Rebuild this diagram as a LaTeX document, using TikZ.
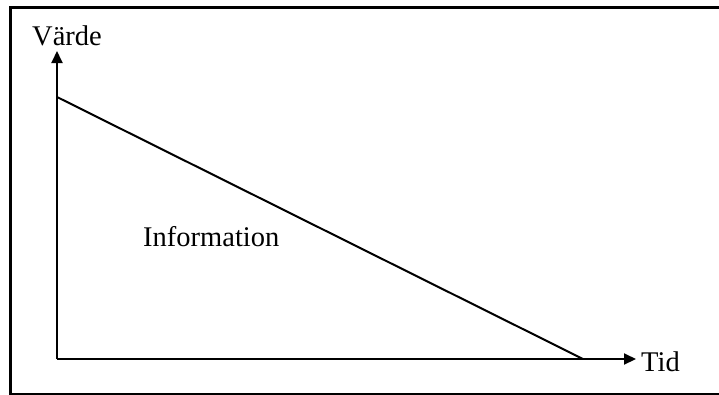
\documentclass[tikz,border=0pt]{standalone}
\usepackage{fontspec}
\setmainfont{Liberation Serif}
\usetikzlibrary{arrows.meta}

\tikzset{
  axis/.style={line width=2pt, -{Triangle[length=12pt, width=11pt]}},
  label/.style={font=\fontsize{28.5}{30}\selectfont, inner sep=0pt}
}

\begin{document}
\begin{tikzpicture}[x=1pt, y=-1pt]
  \useasboundingbox (0,0) rectangle (719,394);
  \clip (0,0) rectangle (719,394);
  % frame
  \draw[line width=3pt] (10,7) rectangle (724,394);
  % axes
  \coordinate (o) at (57,359);
  \coordinate (ytip) at (57,51);
  \coordinate (xtip) at (636,359);
  \draw[axis] (o) -- (ytip);
  \draw[axis] (o) -- (xtip);
  % value line
  \coordinate (start) at (57,97);
  \coordinate (stop) at (583,359);
  \draw[line width=2pt] (start) -- (stop);
  % labels
  \node[label, anchor=base] (varde) at (67,45) {Värde};
  \node[label, anchor=base west] (tid) at (641,371) {Tid};
  \node[label, anchor=base west] (info) at (143,246) {Information};
\end{tikzpicture}
\end{document}
